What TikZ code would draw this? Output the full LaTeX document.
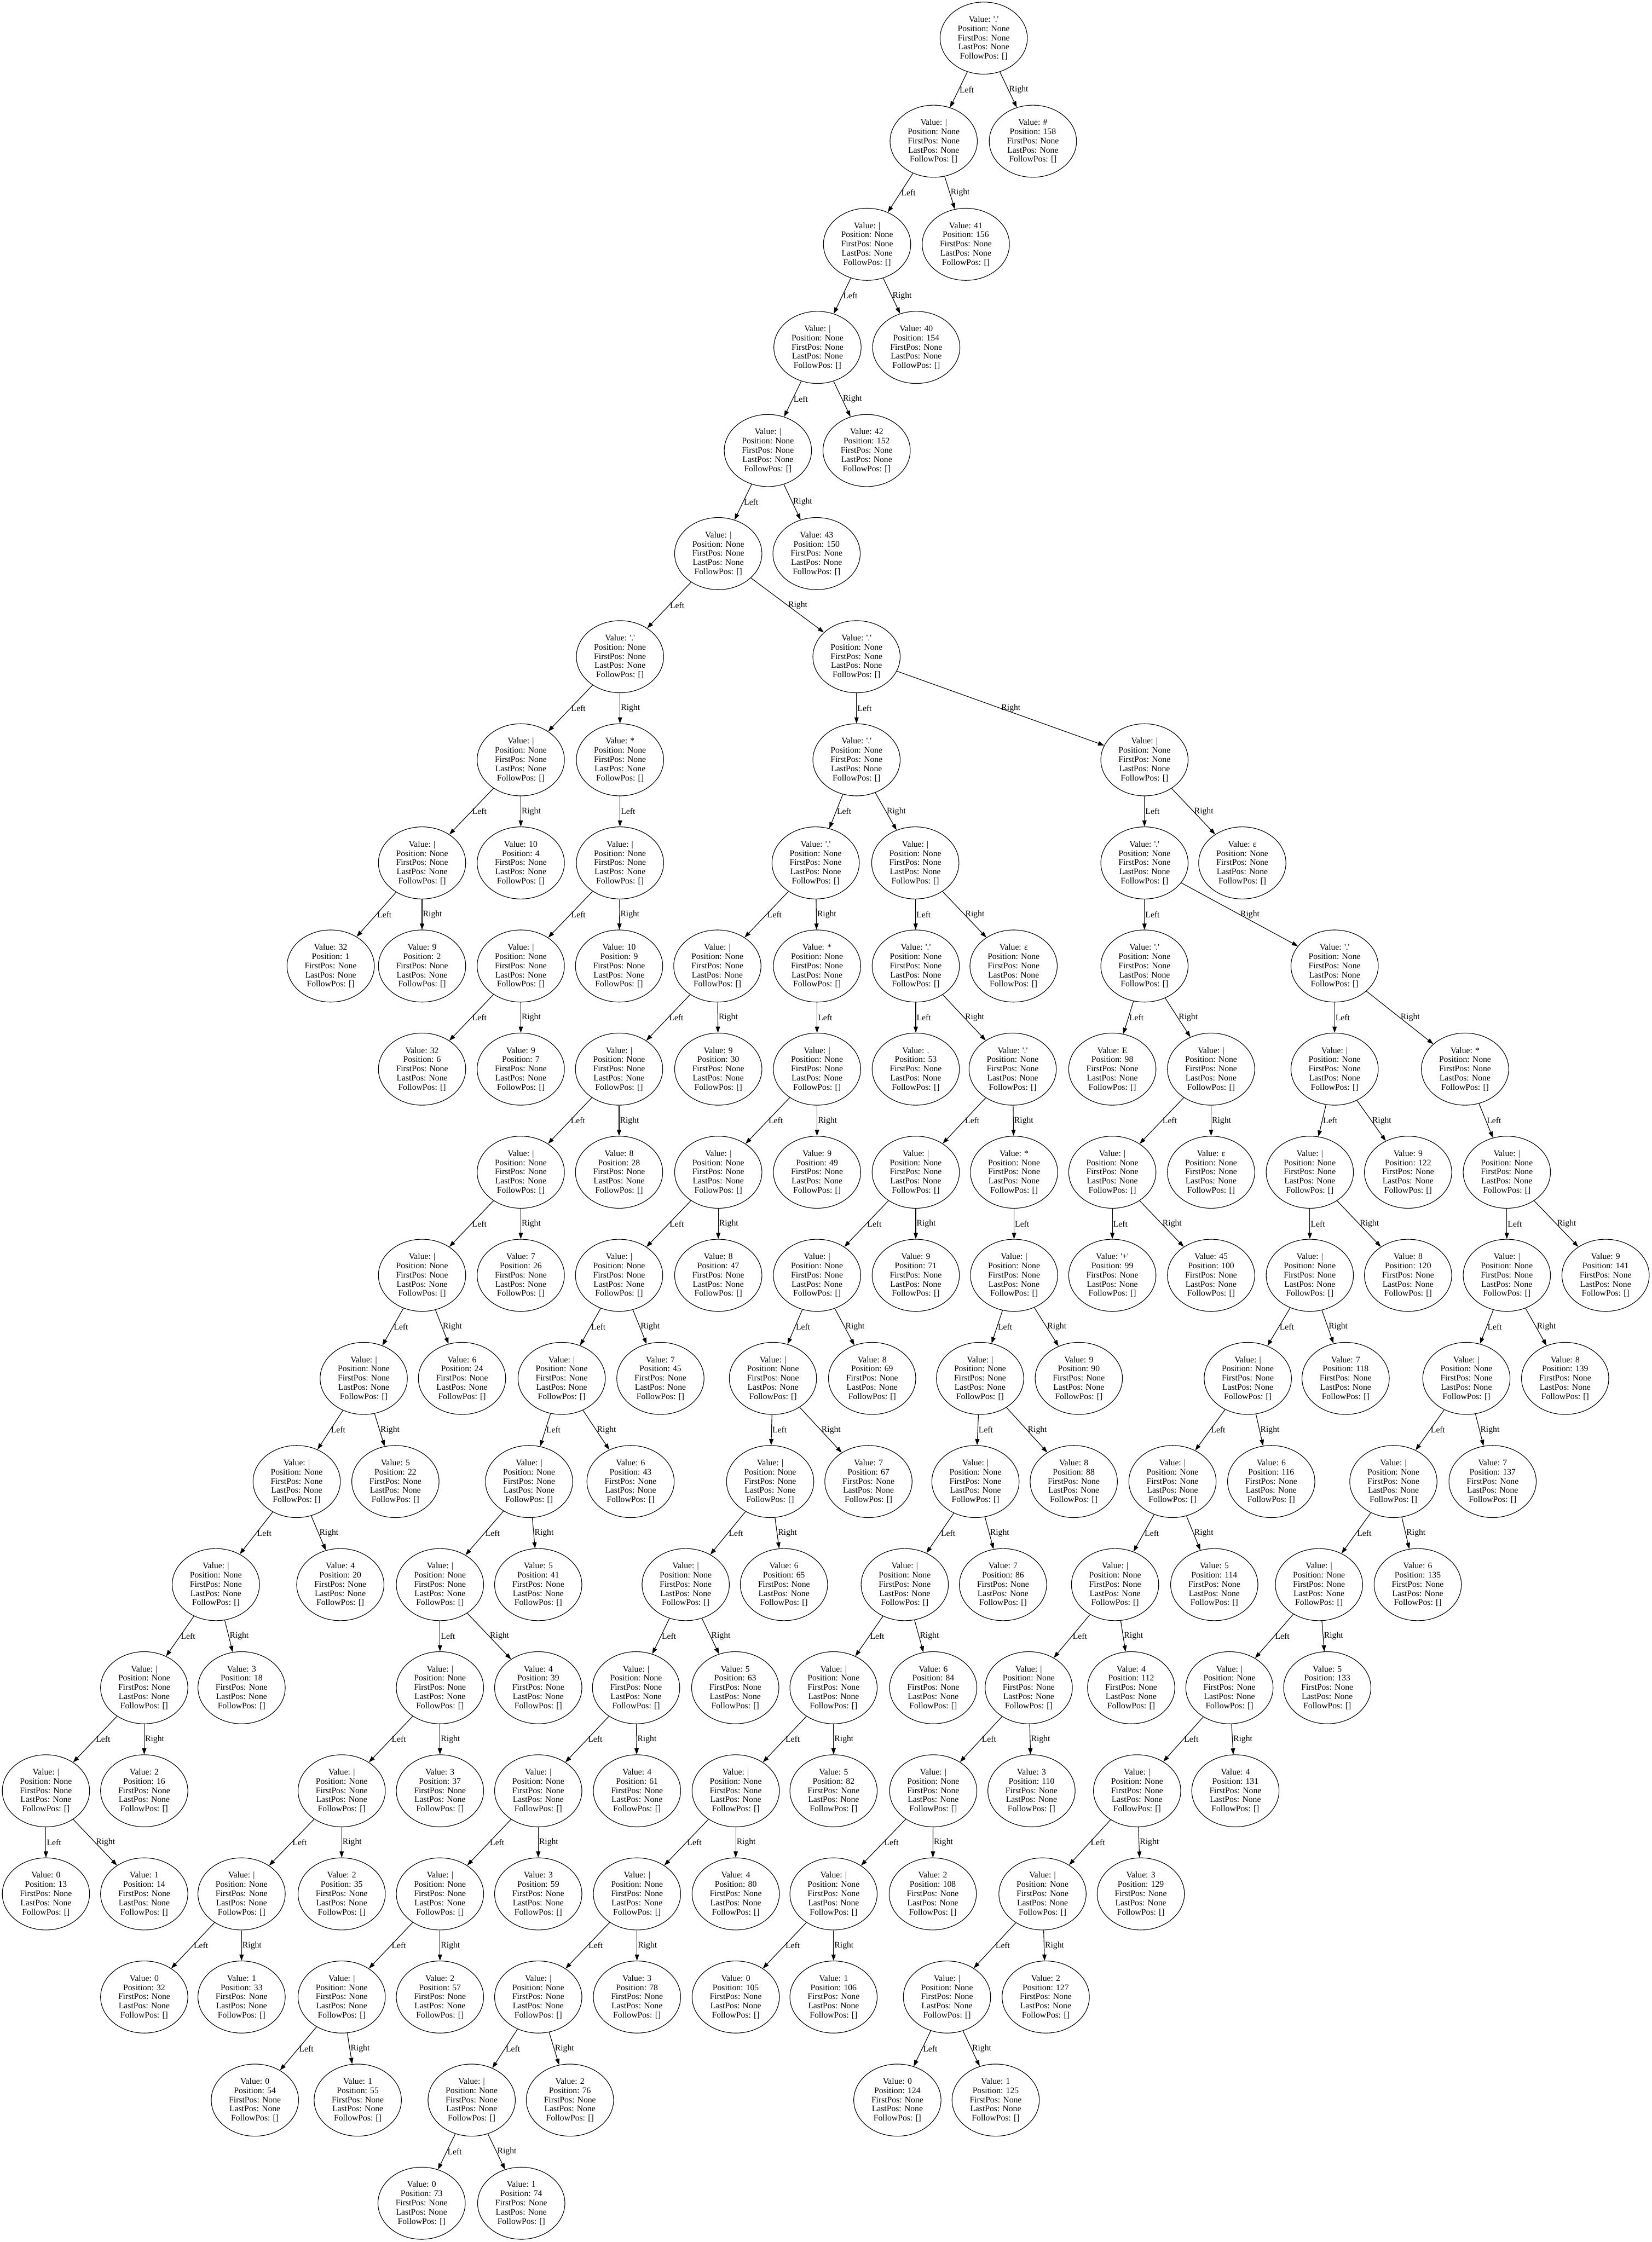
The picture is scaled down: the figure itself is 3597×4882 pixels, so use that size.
\documentclass[tikz,border=0pt]{standalone}
\usepackage{fontspec}
\setmainfont{Liberation Serif}
\usetikzlibrary{shapes.geometric,arrows.meta}
\newcommand\q{\textquotesingle}
\newcommand\mknode[5]{\node[tn] (#1) at (#2,{83+224.5*#3}) {Value: #4\\Position: #5\\FirstPos: None\\LastPos: None\\FollowPos: []};}
\newcommand\tlr[3]{\draw[ed] (#1) -- node[el]{Left} (#2); \draw[ed] (#1) -- node[el]{Right} (#3);}
\newcommand\tlo[2]{\draw[ed] (#1) -- node[el]{Left} (#2);}
\tikzset{
  tn/.style={draw, ellipse, line width=1pt, minimum width=142.5pt, minimum height=117.75pt, inner sep=0pt, align=center, font=\fontsize{14}{15}\selectfont},
  ed/.style={-{Triangle[length=10pt,width=7pt]}, line width=1pt},
  el/.style={anchor=west, inner sep=1pt, font=\fontsize{14}{15}\selectfont}
}
\begin{document}
\begin{tikzpicture}[x=0.75pt,y=-0.75pt]
\useasboundingbox (0,0) rectangle (3597,4882);
% rank 0-6
\mknode{root}{2142}{0}{\q.\q}{None}
\mknode{A1}{2033}{1}{|}{None}
\mknode{L158}{2249}{1}{\#}{158}
\mknode{A2}{1888}{2}{|}{None}
\mknode{L156}{2103}{2}{41}{156}
\mknode{A3}{1780}{3}{|}{None}
\mknode{L154}{1995}{3}{40}{154}
\mknode{A4}{1672}{4}{|}{None}
\mknode{L152}{1887}{4}{42}{152}
\mknode{A5}{1564}{5}{|}{None}
\mknode{L150}{1778}{5}{43}{150}
\mknode{B}{1350}{6}{\q.\q}{None}
\mknode{C}{1865}{6}{\q.\q}{None}
% rank 7
\mknode{B1}{1134}{7}{|}{None}
\mknode{B2}{1350}{7}{*}{None}
\mknode{C1}{1865}{7}{\q.\q}{None}
\mknode{D}{2492}{7}{|}{None}
% rank 8
\mknode{B11}{919}{8}{|}{None}
\mknode{L4}{1134}{8}{10}{4}
\mknode{B21}{1350}{8}{|}{None}
\mknode{C11}{1776}{8}{\q.\q}{None}
\mknode{C12}{1993}{8}{|}{None}
\mknode{D1}{2492}{8}{\q.\q}{None}
\mknode{Ep1}{2705}{8}{ε}{None}
% rank 9
\mknode{L1}{720}{9}{32}{1}
\mknode{L2}{919}{9}{9}{2}
\mknode{B211}{1134}{9}{|}{None}
\mknode{L9}{1348}{9}{10}{9}
\mknode{E1}{1562}{9}{|}{None}
\mknode{F}{1779}{9}{*}{None}
\mknode{C121}{1994}{9}{\q.\q}{None}
\mknode{Ep2}{2207}{9}{ε}{None}
\mknode{D11}{2492}{9}{\q.\q}{None}
\mknode{D12}{2906}{9}{\q.\q}{None}
% rank 10
\mknode{L6}{919}{10}{32}{6}
\mknode{L7}{1134}{10}{9}{7}
\mknode{E2}{1348}{10}{|}{None}
\mknode{L30}{1564}{10}{9}{30}
\mknode{F1}{1779}{10}{|}{None}
\mknode{L53}{1994}{10}{.}{53}
\mknode{C1212}{2205}{10}{\q.\q}{None}
\mknode{L98}{2422}{10}{E}{98}
\mknode{D112}{2637}{10}{|}{None}
\mknode{J1}{2906}{10}{|}{None}
\mknode{D122}{3190}{10}{*}{None}
% rank 11
\mknode{E3}{1134}{11}{|}{None}
\mknode{L28}{1348}{11}{8}{28}
\mknode{F2}{1564}{11}{|}{None}
\mknode{L49}{1779}{11}{9}{49}
\mknode{G1}{1994}{11}{|}{None}
\mknode{H}{2208}{11}{*}{None}
\mknode{D1121}{2422}{11}{|}{None}
\mknode{Ep3}{2637}{11}{ε}{None}
\mknode{J2}{2852}{11}{|}{None}
\mknode{L122}{3066}{11}{9}{122}
\mknode{K1}{3281}{11}{|}{None}
% rank 12
\mknode{E4}{919}{12}{|}{None}
\mknode{L26}{1134}{12}{7}{26}
\mknode{F3}{1348}{12}{|}{None}
\mknode{L47}{1564}{12}{8}{47}
\mknode{G2}{1779}{12}{|}{None}
\mknode{L71}{1994}{12}{9}{71}
\mknode{H1}{2208}{12}{|}{None}
\mknode{L99}{2422}{12}{\q+\q}{99}
\mknode{L100}{2637}{12}{45}{100}
\mknode{J3}{2852}{12}{|}{None}
\mknode{L120}{3066}{12}{8}{120}
\mknode{K2}{3281}{12}{|}{None}
\mknode{L141}{3496}{12}{9}{141}
% rank 13
\mknode{E5}{792}{13}{|}{None}
\mknode{L24}{1006}{13}{6}{24}
\mknode{F4}{1223}{13}{|}{None}
\mknode{L45}{1438}{13}{7}{45}
\mknode{G3}{1683}{13}{|}{None}
\mknode{L69}{1899}{13}{8}{69}
\mknode{H2}{2134}{13}{|}{None}
\mknode{L90}{2349}{13}{9}{90}
\mknode{J4}{2717}{13}{|}{None}
\mknode{L118}{2930}{13}{7}{118}
\mknode{K3}{3193}{13}{|}{None}
\mknode{L139}{3408}{13}{8}{139}
% rank 14
\mknode{E6}{646}{14}{|}{None}
\mknode{L22}{861}{14}{5}{22}
\mknode{F5}{1152}{14}{|}{None}
\mknode{L43}{1373}{14}{6}{43}
\mknode{G4}{1677}{14}{|}{None}
\mknode{L67}{1891}{14}{7}{67}
\mknode{H3}{2124}{14}{|}{None}
\mknode{L88}{2338}{14}{8}{88}
\mknode{J5}{2553}{14}{|}{None}
\mknode{L116}{2768}{14}{6}{116}
\mknode{K4}{3034}{14}{|}{None}
\mknode{L137}{3250}{14}{7}{137}
% rank 15
\mknode{E7}{470}{15}{|}{None}
\mknode{L20}{741}{15}{4}{20}
\mknode{F6}{958}{15}{|}{None}
\mknode{L41}{1172}{15}{5}{41}
\mknode{G5}{1493}{15}{|}{None}
\mknode{L65}{1707}{15}{6}{65}
\mknode{H4}{1970}{15}{|}{None}
\mknode{L86}{2184}{15}{7}{86}
\mknode{J6}{2428}{15}{|}{None}
\mknode{L114}{2644}{15}{5}{114}
\mknode{K5}{2872}{15}{|}{None}
\mknode{L135}{3087}{15}{6}{135}
% rank 16
\mknode{E8}{314}{16}{|}{None}
\mknode{L18}{526}{16}{3}{18}
\mknode{F7}{958}{16}{|}{None}
\mknode{L39}{1172}{16}{4}{39}
\mknode{G6}{1385}{16}{|}{None}
\mknode{L63}{1601}{16}{5}{63}
\mknode{H5}{1815}{16}{|}{None}
\mknode{L84}{2032}{16}{6}{84}
\mknode{J7}{2240}{16}{|}{None}
\mknode{L112}{2463}{16}{4}{112}
\mknode{K6}{2677}{16}{|}{None}
\mknode{L133}{2890}{16}{5}{133}
% rank 17
\mknode{E9}{100}{17}{|}{None}
\mknode{L16}{314}{17}{2}{16}
\mknode{F8}{744}{17}{|}{None}
\mknode{L37}{958}{17}{3}{37}
\mknode{G7}{1172}{17}{|}{None}
\mknode{L61}{1387}{17}{4}{61}
\mknode{H6}{1602}{17}{|}{None}
\mknode{L82}{1815}{17}{5}{82}
\mknode{J8}{2032}{17}{|}{None}
\mknode{L110}{2246}{17}{3}{110}
\mknode{K7}{2476}{17}{|}{None}
\mknode{L131}{2690}{17}{4}{131}
% rank 18
\mknode{L13}{100}{18}{0}{13}
\mknode{L14}{314}{18}{1}{14}
\mknode{F9}{526}{18}{|}{None}
\mknode{L35}{744}{18}{2}{35}
\mknode{G8}{958}{18}{|}{None}
\mknode{L59}{1172}{18}{3}{59}
\mknode{H7}{1387}{18}{|}{None}
\mknode{L80}{1602}{18}{4}{80}
\mknode{J9}{1815}{18}{|}{None}
\mknode{L108}{2031}{18}{2}{108}
\mknode{K8}{2270}{18}{|}{None}
\mknode{L129}{2484}{18}{3}{129}
% rank 19
\mknode{L32}{314}{19}{0}{32}
\mknode{L33}{526}{19}{1}{33}
\mknode{G9}{744}{19}{|}{None}
\mknode{L57}{958}{19}{2}{57}
\mknode{H8}{1172}{19}{|}{None}
\mknode{L78}{1387}{19}{3}{78}
\mknode{L105}{1602}{19}{0}{105}
\mknode{L106}{1815}{19}{1}{106}
\mknode{K9}{2062}{19}{|}{None}
\mknode{L127}{2277}{19}{2}{127}
% rank 20
\mknode{L54}{555}{20}{0}{54}
\mknode{L55}{779}{20}{1}{55}
\mknode{H9}{1027}{20}{|}{None}
\mknode{L76}{1241}{20}{2}{76}
\mknode{L124}{1954}{20}{0}{124}
\mknode{L125}{2168}{20}{1}{125}
% rank 21
\mknode{L73}{918}{21}{0}{73}
\mknode{L74}{1135}{21}{1}{74}
% edges
\tlr{root}{A1}{L158}
\tlr{A1}{A2}{L156}
\tlr{A2}{A3}{L154}
\tlr{A3}{A4}{L152}
\tlr{A4}{A5}{L150}
\tlr{A5}{B}{C}
\tlr{B}{B1}{B2}
\tlr{B1}{B11}{L4}
\tlr{B11}{L1}{L2}
\tlo{B2}{B21}
\tlr{B21}{B211}{L9}
\tlr{B211}{L6}{L7}
\tlr{C}{C1}{D}
\tlr{C1}{C11}{C12}
\tlr{C11}{E1}{F}
\tlr{E1}{E2}{L30}
\tlr{E2}{E3}{L28}
\tlr{E3}{E4}{L26}
\tlr{E4}{E5}{L24}
\tlr{E5}{E6}{L22}
\tlr{E6}{E7}{L20}
\tlr{E7}{E8}{L18}
\tlr{E8}{E9}{L16}
\tlr{E9}{L13}{L14}
\tlo{F}{F1}
\tlr{F1}{F2}{L49}
\tlr{F2}{F3}{L47}
\tlr{F3}{F4}{L45}
\tlr{F4}{F5}{L43}
\tlr{F5}{F6}{L41}
\tlr{F6}{F7}{L39}
\tlr{F7}{F8}{L37}
\tlr{F8}{F9}{L35}
\tlr{F9}{L32}{L33}
\tlr{C12}{C121}{Ep2}
\tlr{C121}{L53}{C1212}
\tlr{C1212}{G1}{H}
\tlr{G1}{G2}{L71}
\tlr{G2}{G3}{L69}
\tlr{G3}{G4}{L67}
\tlr{G4}{G5}{L65}
\tlr{G5}{G6}{L63}
\tlr{G6}{G7}{L61}
\tlr{G7}{G8}{L59}
\tlr{G8}{G9}{L57}
\tlr{G9}{L54}{L55}
\tlo{H}{H1}
\tlr{H1}{H2}{L90}
\tlr{H2}{H3}{L88}
\tlr{H3}{H4}{L86}
\tlr{H4}{H5}{L84}
\tlr{H5}{H6}{L82}
\tlr{H6}{H7}{L80}
\tlr{H7}{H8}{L78}
\tlr{H8}{H9}{L76}
\tlr{H9}{L73}{L74}
\tlr{D}{D1}{Ep1}
\tlr{D1}{D11}{D12}
\tlr{D11}{L98}{D112}
\tlr{D112}{D1121}{Ep3}
\tlr{D1121}{L99}{L100}
\tlr{D12}{J1}{D122}
\tlr{J1}{J2}{L122}
\tlr{J2}{J3}{L120}
\tlr{J3}{J4}{L118}
\tlr{J4}{J5}{L116}
\tlr{J5}{J6}{L114}
\tlr{J6}{J7}{L112}
\tlr{J7}{J8}{L110}
\tlr{J8}{J9}{L108}
\tlr{J9}{L105}{L106}
\tlo{D122}{K1}
\tlr{K1}{K2}{L141}
\tlr{K2}{K3}{L139}
\tlr{K3}{K4}{L137}
\tlr{K4}{K5}{L135}
\tlr{K5}{K6}{L133}
\tlr{K6}{K7}{L131}
\tlr{K7}{K8}{L129}
\tlr{K8}{K9}{L127}
\tlr{K9}{L124}{L125}
\end{tikzpicture}
\end{document}
